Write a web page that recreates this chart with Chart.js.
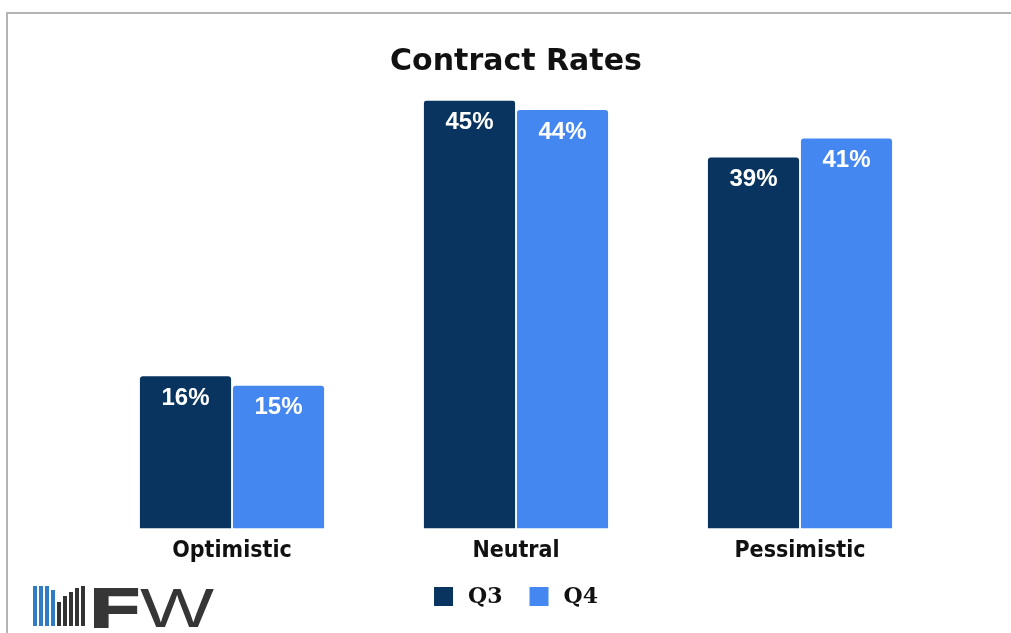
<!DOCTYPE html>
<html>
<head>
<meta charset="utf-8">
<script src="https://cdn.jsdelivr.net/npm/chart.js@4.4.1/dist/chart.umd.min.js"></script>
<style>
  html, body { margin: 0; padding: 0; background: #fff; }
  #wrap { position: relative; width: 1011px; height: 633px; overflow: hidden; }
  #frame { position: absolute; left: 6px; top: 12px; width: 1100px; height: 700px;
           border-top: 2px solid #b4b4b4; border-left: 2px solid #b4b4b4; }
  canvas { position: absolute; left: 0; top: 0; }
  #logo { position: absolute; left: 33px; top: 584px; height: 42px; }
  #mark { position: absolute; left: 0; top: 0; width: 54px; height: 42px; }
  #mark i { position: absolute; bottom: 0; width: 4px; display: block; }
  #word { position: absolute; left: 57px; top: 0; height: 42px; white-space: nowrap;
          font-family: "Liberation Sans", Arial, sans-serif; color: #363636; }
  #word .f { position: absolute; left: 0; top: -9px; font-size: 56px; font-weight: 900;
             transform: scaleX(1.45); transform-origin: left top; -webkit-text-stroke: 2px #363636; }
  #word .w { position: absolute; left: 50px; top: -9px; font-size: 56px; font-weight: 400;
             transform: scaleX(1.4); transform-origin: left top; }
</style>
</head>
<body>
<div id="wrap">
  <div id="frame"></div>
  <canvas id="c" width="1011" height="633"></canvas>
  <div id="logo">
    <div id="mark"></div>
    <div id="word"><span class="f">F</span><span class="w">W</span></div>
  </div>
</div>
<script>
// Survey data: share of respondents per outlook
const categories = ["Optimistic", "Neutral", "Pessimistic"];
const q3Values = [16, 45, 39];
const q4Values = [15, 44, 41];
const seriesNames = ["Q3", "Q4"];

const Q3_COLOR = "#08345f";
const Q4_COLOR = "#4587f0";

// Small bar-style brand mark next to the wordmark
(function buildMark() {
  const mark = document.getElementById("mark");
  const cols = [
    { x: 0,  h: 40, c: "#2f7cc4" },
    { x: 6,  h: 40, c: "#2f7cc4" },
    { x: 12, h: 40, c: "#2f7cc4" },
    { x: 18, h: 36, c: "#2f7cc4" },
    { x: 24, h: 24, c: "#333" },
    { x: 30, h: 30, c: "#333" },
    { x: 36, h: 34, c: "#333" },
    { x: 42, h: 38, c: "#333" },
    { x: 48, h: 40, c: "#333" }
  ];
  cols.forEach(function (k) {
    const el = document.createElement("i");
    el.style.left = k.x + "px";
    el.style.height = k.h + "px";
    el.style.background = k.c;
    mark.appendChild(el);
  });
})();

// Writes each bar's value in white near the top of the bar
const valueLabels = {
  id: "valueLabels",
  afterDatasetsDraw(chart) {
    const ctx = chart.ctx;
    ctx.save();
    ctx.fillStyle = "#ffffff";
    ctx.font = "bold 24px Arial, Helvetica, sans-serif";
    ctx.textAlign = "center";
    ctx.textBaseline = "middle";
    chart.data.datasets.forEach(function (ds, di) {
      const meta = chart.getDatasetMeta(di);
      meta.data.forEach(function (bar, i) {
        ctx.fillText(ds.data[i] + "%", bar.x, bar.y + 22);
      });
    });
    ctx.restore();
  }
};

// Legend row centred under the plot: square swatch, then the series name
const seriesLegend = {
  id: "seriesLegend",
  afterDraw(chart) {
    const ctx = chart.ctx;
    const box = 19, gap = 15, between = 27, y = 587;
    ctx.save();
    ctx.font = "bold 22px 'DejaVu Serif', serif";
    ctx.textBaseline = "middle";
    ctx.textAlign = "left";
    const items = chart.data.datasets.map(function (ds) {
      return { text: ds.label, color: ds.backgroundColor, w: ctx.measureText(ds.label).width };
    });
    let total = 0;
    items.forEach(function (it, i) { total += box + gap + it.w + (i ? between : 0); });
    const cx = (chart.chartArea.left + chart.chartArea.right) / 2;
    let x = cx - total / 2;
    items.forEach(function (it) {
      ctx.fillStyle = it.color;
      ctx.fillRect(x, y, box, box);
      ctx.fillStyle = "#111";
      ctx.fillText(it.text, x + box + gap, y + box / 2 + 1);
      x += box + gap + it.w + between;
    });
    ctx.restore();
  }
};

new Chart(document.getElementById("c"), {
  type: "bar",
  data: {
    labels: categories,
    datasets: [
      { label: seriesNames[0], data: q3Values, backgroundColor: Q3_COLOR },
      { label: seriesNames[1], data: q4Values, backgroundColor: Q4_COLOR }
    ]
  },
  options: {
    responsive: false,
    animation: false,
    devicePixelRatio: 1,
    layout: { padding: { left: 90, right: 69, top: 0, bottom: 67 } },
    datasets: {
      bar: {
        categoryPercentage: 0.655,
        barPercentage: 0.98,
        borderRadius: { topLeft: 3, topRight: 3 },
        borderSkipped: "start"
      }
    },
    scales: {
      x: {
        grid: { display: false },
        border: { display: false },
        ticks: {
          color: "#111",
          padding: 1,
          font: { family: "'DejaVu Sans Condensed', 'DejaVu Sans', sans-serif", weight: "bold", size: 23 }
        }
      },
      y: {
        display: false,
        min: 0,
        max: 45
      }
    },
    plugins: {
      title: {
        display: true,
        text: "Contract Rates",
        color: "#111",
        font: { family: "'DejaVu Sans', Verdana, sans-serif", weight: "bold", size: 30 },
        padding: { top: 44, bottom: 20.5 }
      },
      legend: { display: false },
      tooltip: { enabled: false }
    }
  },
  plugins: [valueLabels, seriesLegend]
});
</script>
</body>
</html>
